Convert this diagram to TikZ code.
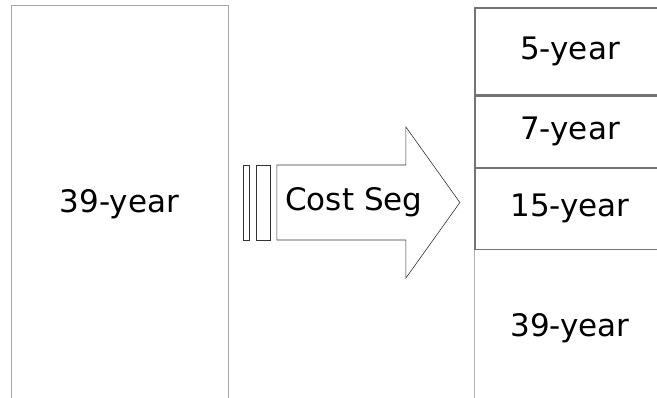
\documentclass[tikz,border=0pt]{standalone}
\usepackage{fontspec}
\setmainfont{DejaVu Sans}
\usepackage{tikz}
\usetikzlibrary{calc,positioning}

\begin{document}
\begin{tikzpicture}[x=1pt,y=-1pt,
		every node/.style={font=\fontsize{31}{37}\selectfont},
		oldbox/.style={draw=gray!70, line width=1pt, inner sep=0pt},
		newbox/.style={draw=black!55, line width=1.2pt, inner sep=0pt, minimum width=190pt},
		bar/.style={draw=black!80, line width=0.6pt, inner sep=0pt, minimum height=75pt}]
		\useasboundingbox (0,0) rectangle (657,398);
		\clip (0,0) rectangle (657,398);
		% before
		\node[oldbox, minimum width=217pt, minimum height=396pt] (old) at (119.5,204) {39-year};
		% cost seg arrow
		\node[bar, minimum width=6pt] (bara) at (246,202.5) {};
		\node[bar, minimum width=14pt, right=7pt of bara] (barb) {};
		\coordinate[right=6pt of barb] (tail);
		\draw[black!80, line width=0.6pt] ($(tail)+(0,-37.5)$) -- ++(129,0) -- ++(0,-38) -- ($(tail)+(183,0)$)
			-- ($(tail)+(129,75.5)$) -- ++(0,-38) -- ($(tail)+(0,37.5)$) -- cycle;
		\node (seg) at ($(tail)+(77,0)$) {Cost Seg};
		% after
		\node[newbox, minimum height=87pt, draw] (five) at (570,51.5) {5-year};
		\node[newbox, minimum height=71pt, below=0pt of five] (seven) {7-year};
		\node[newbox, minimum height=81pt, below=0pt of seven] (fifteen) {15-year};
		\node[inner sep=0pt, minimum width=190pt, minimum height=156pt, below=0pt of fifteen] (rest) {39-year};
		\draw[gray!60, line width=1pt] (rest.north west) -- (rest.south west);
	\end{tikzpicture}
\end{document}
